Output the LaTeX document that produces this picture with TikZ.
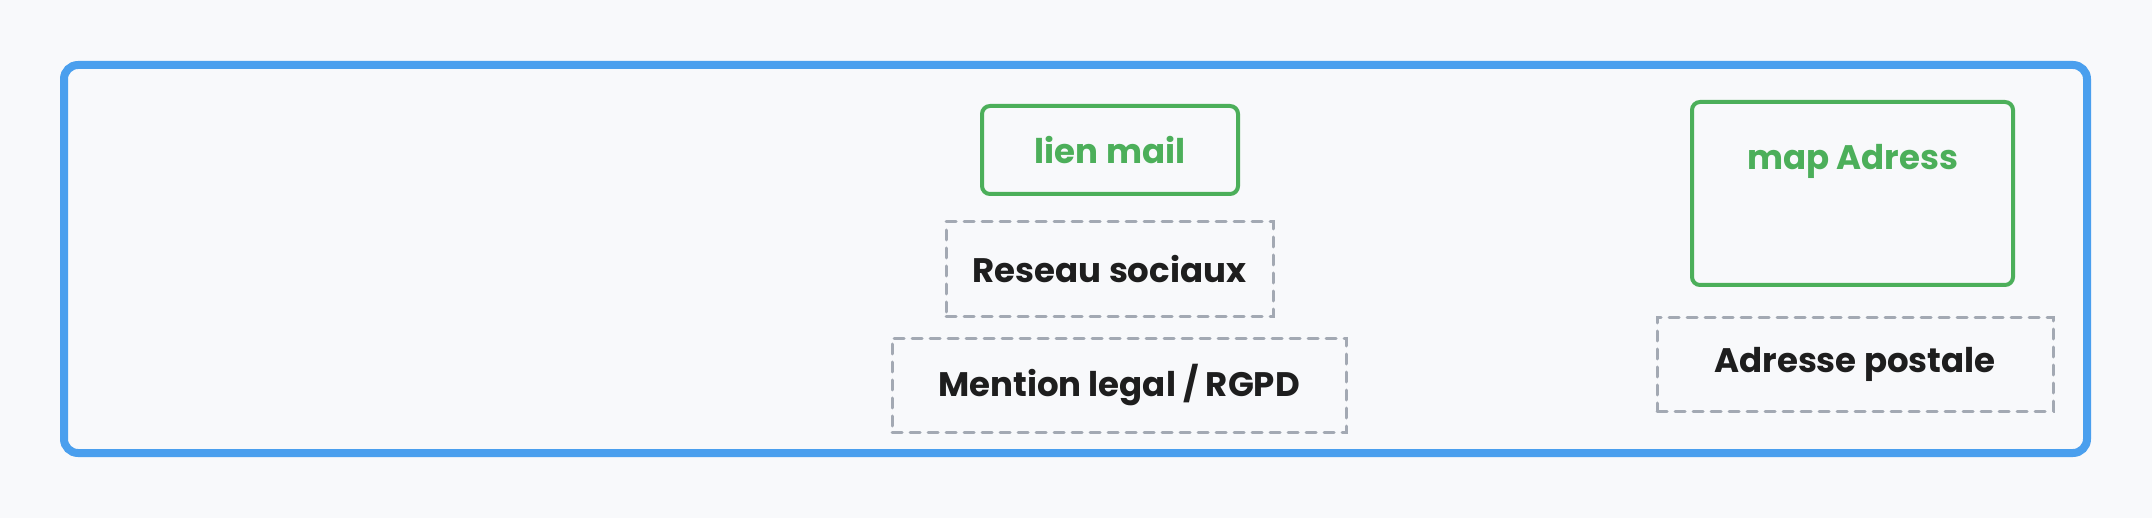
\documentclass[tikz,border=0pt]{standalone}
\usepackage{fontspec}
\setmainfont{Poppins}
\usetikzlibrary{positioning}
\definecolor{pageBg}{HTML}{F8F9FB}
\definecolor{frameBlue}{HTML}{4A9FEE}
\definecolor{linkGreen}{HTML}{4CAF5A}
\definecolor{slotGray}{HTML}{A3A9B3}
\definecolor{inkBlack}{HTML}{1E1E1E}
\tikzset{
  footFrame/.style={draw=frameBlue, line width=4pt, rounded corners=7pt, inner sep=0pt, outer sep=0pt},
  linkBox/.style={draw=linkGreen, line width=2pt, rounded corners=4pt, inner sep=0pt, outer sep=0pt,
    text=linkGreen, font=\fontsize{17}{20}\selectfont\bfseries},
  slotBox/.style={draw=slotGray, line width=1.5pt, dash pattern=on 5pt off 4pt, line cap=round,
    inner sep=0pt, outer sep=0pt, text=inkBlack, font=\fontsize{17}{20}\selectfont\bfseries},
  boxLabel/.style={inner sep=0pt, font=\fontsize{17}{20}\selectfont\bfseries}
}
\begin{document}
\begin{tikzpicture}[x=0.5pt, y=-0.5pt]
% footer mock-up, coordinates in pixels of the sketch
\def\pxsz{0.5pt}
\useasboundingbox (0,0) rectangle (2152,518);
\fill[pageBg] (0,0) rectangle (2152,518);
% Outer frame
\node[footFrame, minimum width=2023*\pxsz, minimum height=388*\pxsz] (footer) at (1075.5,259) {};
% Middle column: contact and legal links
\node[linkBox, minimum width=256*\pxsz, minimum height=88*\pxsz] (mail) at (1110,150) {lien mail};
\node[slotBox, minimum width=327*\pxsz, minimum height=94*\pxsz] (social) at (1109.5,269) {Reseau sociaux};
\node[slotBox, minimum width=454*\pxsz, minimum height=94*\pxsz] (legal) at (1119,385) {Mention legal / RGPD};
% Right column: map and postal address
\node[linkBox, minimum width=321*\pxsz, minimum height=183*\pxsz] (map) at (1852.5,193.5) {};
\node[boxLabel, text=linkGreen, below=21pt of map.north] (mapLabel) {map Adress};
\node[slotBox, minimum width=396*\pxsz, minimum height=94*\pxsz] (postal) at (1855,364) {Adresse postale};
\end{tikzpicture}
\end{document}
